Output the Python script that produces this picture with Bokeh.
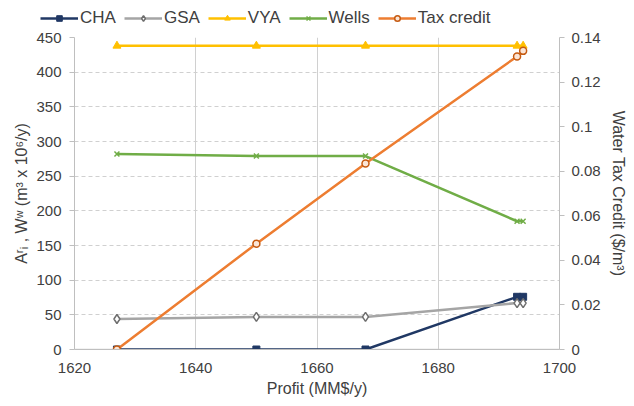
from bokeh.plotting import figure
from bokeh.layouts import column, row
from bokeh.models import (Range1d, LinearAxis, FixedTicker, Grid, Legend, LegendItem,
                          CustomJSTickFormatter)
from bokeh.embed import file_html
from bokeh.resources import INLINE

# Profit (MM$/y) for each solution
profit = [1627, 1650, 1668, 1693, 1694]

# Left axis series (m3 x 10^6 / y)
cha = [0, 0, 0, 76, 76]
gsa = [44, 47, 47, 67, 67]
vya = [438, 438, 438, 438, 438]
wells = [282, 279, 279, 185, 185]

# Right axis series ($/m3)
tax_credit = [0, 0.0475, 0.0835, 0.1315, 0.134]

series_names = ["CHA", "GSA", "VYA", "Wells", "Tax credit"]
left_ticks = [0, 50, 100, 150, 200, 250, 300, 350, 400, 450]
right_ticks = [0, 0.02, 0.04, 0.06, 0.08, 0.1, 0.12, 0.14]
x_ticks = [1620, 1640, 1660, 1680, 1700]

FONT = "Liberation Sans"
TXT = "#404040"
AXC = "#bfbfbf"

# Line and marker styles for each series
styles = {
    "CHA": (dict(line_color="#203864", line_width=2.5),
            dict(marker="square", size=7, fill_color="#203864", line_color="#203864")),
    "GSA": (dict(line_color="#a5a5a5", line_width=2.5),
            dict(marker="diamond", size=9, line_color="#6e6e6e", fill_color="white", line_width=1.5)),
    "VYA": (dict(line_color="#ffc000", line_width=2.5),
            dict(marker="triangle", size=8, fill_color="#ffc000", line_color="#ffc000")),
    "Wells": (dict(line_color="#70ad47", line_width=2.5),
              dict(marker="x", size=7, line_color="#70ad47", line_width=1.5)),
    "Tax credit": (dict(line_color="#ed7d31", line_width=2.5),
                   dict(marker="circle", size=7, line_color="#c55a11", fill_color="#fbe5d6", line_width=1.5)),
}

p = figure(width=634, height=378, output_backend="svg", toolbar_location=None,
           x_range=Range1d(1620, 1700), y_range=Range1d(0, 450),
           min_border_left=74, min_border_right=75, min_border_top=9, min_border_bottom=57)
p.outline_line_color = None
p.extra_y_ranges = {"tax": Range1d(0, 0.14)}

# Axes
p.xaxis.ticker = FixedTicker(ticks=x_ticks)
p.yaxis.ticker = FixedTicker(ticks=left_ticks)
p.xaxis.axis_label = "Profit (MM$/y)"
p.yaxis.axis_label = "Aʳᵢ , Wʷ (m³ x 10⁶/y)"

right = LinearAxis(y_range_name="tax", ticker=FixedTicker(ticks=right_ticks),
                   axis_label="Water Tax Credit ($/m³)",
                   formatter=CustomJSTickFormatter(code="return tick.toFixed(2).replace(/\\.?0+$/, '');"))
p.add_layout(right, "right")

for ax in [p.xaxis[0], p.yaxis[0], right]:
    ax.axis_line_color = AXC
    ax.major_tick_line_color = AXC
    ax.major_tick_out = 5
    ax.major_tick_in = 0
    ax.minor_tick_line_color = None
    ax.major_label_text_font = FONT
    ax.major_label_text_font_size = "15px"
    ax.major_label_text_color = TXT
    ax.axis_label_text_font = FONT
    ax.axis_label_text_font_size = "16px"
    ax.axis_label_text_font_style = "normal"
    ax.axis_label_text_color = TXT
p.xaxis.major_tick_line_color = None
p.xaxis.major_label_standoff = 8
p.yaxis.major_label_standoff = 8
right.major_label_standoff = 7
p.xaxis.axis_label_standoff = 4
p.yaxis.axis_label_standoff = 3
right.axis_label_standoff = 6

# Grids: dashed for left-axis ticks, solid for right-axis ticks
p.xgrid.grid_line_color = "#d0d0d0"
p.xgrid.grid_line_width = 1
p.ygrid.grid_line_color = "#d0d0d0"
p.ygrid.grid_line_dash = "4 3"
p.ygrid.grid_line_width = 1
p.add_layout(Grid(dimension=1, axis=right, grid_line_color="#d0d0d0", grid_line_width=1.5))

# Series
data = {"CHA": cha, "GSA": gsa, "VYA": vya, "Wells": wells, "Tax credit": tax_credit}
for name in series_names:
    ln, mk = styles[name]
    kw = {"y_range_name": "tax"} if name == "Tax credit" else {}
    p.line(profit, data[name], **ln, **kw)
    p.scatter(profit, data[name], **mk, **kw)

# Legend strip above the chart (its swatch renderers sit outside the visible range)
leg_fig = figure(width=634, height=28, output_backend="svg", toolbar_location=None,
                 x_axis_type=None, y_axis_type=None, x_range=Range1d(0, 1), y_range=Range1d(0, 1),
                 min_border=0, min_border_left=0, min_border_right=0,
                 min_border_top=0, min_border_bottom=0)
leg_fig.outline_line_color = None
leg_fig.xgrid.visible = False
leg_fig.ygrid.visible = False
items = []
for name in series_names:
    ln, mk = styles[name]
    r1 = leg_fig.line([-5, -4], [-5, -4], **ln)
    r2 = leg_fig.scatter([-5], [-5], **mk)
    items.append(LegendItem(label=name, renderers=[r1, r2]))
legend = Legend(items=items, orientation="horizontal", location=(40, 0), border_line_color=None,
                background_fill_alpha=0, label_text_font=FONT, label_text_font_size="17px",
                label_text_color=TXT, glyph_width=38, glyph_height=14, spacing=8,
                label_standoff=2, padding=0, margin=0)
leg_fig.add_layout(legend, "center")

layout = column(row(leg_fig), p, spacing=0)
open("out.html", "w").write(file_html(layout, INLINE))
